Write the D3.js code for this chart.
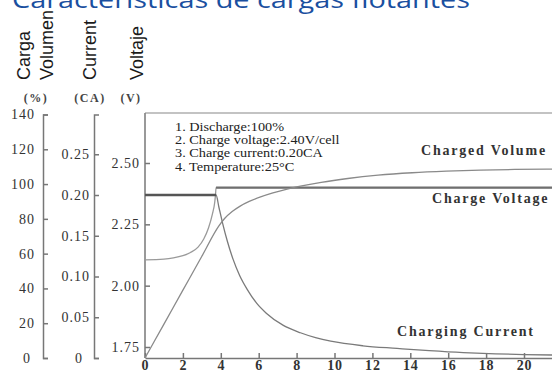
<!DOCTYPE html>
<html>
<head>
<meta charset="utf-8">
<script src="https://cdn.jsdelivr.net/npm/d3@7/dist/d3.min.js"></script>
<style>
  body { margin: 0; background: #fff; }
  svg { display: block; }
  .tick line, .domain { stroke: #777; stroke-width: 1.5; }
</style>
</head>
<body>
<div id="chart"></div>
<script>
const title = "Características de cargas flotantes";
const axisTitles = ["Carga", "Volumen", "Current", "Voltaje"];
const unitLabels = ["(%)", "(CA)", "(V)"];
const notes = [
    "1. Discharge:100%",
    "2. Charge voltage:2.40V/cell",
    "3. Charge current:0.20CA",
    "4. Temperature:25°C"
];

const hourTicks = [0, 2, 4, 6, 8, 10, 12, 14, 16, 18, 20];
const pctTicks = [0, 20, 40, 60, 80, 100, 120, 140];
const caTicks = [0, 0.05, 0.10, 0.15, 0.20, 0.25];
const voltTicks = [1.75, 2.00, 2.25, 2.50];

// charged volume (%)
const volumeHours = [0, 1, 2, 3, 3.9, 4.2, 4.6, 5.0, 5.5, 6.1, 6.75, 7.5, 8.2, 9.3, 10.7, 12.3, 14.1, 15.9, 17.7, 19.5, 21.2, 22];
const volumePct = [0, 19.5, 39, 58.5, 76, 80.2, 84.2, 87.2, 90, 92.6, 94.9, 97.1, 98.8, 101, 103.2, 105.1, 106.5, 107.4, 108, 108.4, 108.6, 108.7];

// charge voltage (V/cell)
const voltHours = [0, 1, 1.5, 2, 2.4, 2.8, 3.1, 3.35, 3.55, 3.68, 3.72, 3.75, 22];
const voltValues = [2.105, 2.108, 2.113, 2.122, 2.135, 2.157, 2.19, 2.235, 2.29, 2.34, 2.37, 2.40, 2.40];

// charging current (CA)
const currentHours = [0, 3.75, 3.9, 4.1, 4.35, 4.65, 5.0, 5.4, 5.9, 6.4, 7.3, 8.2, 9.0, 9.8, 11.5, 13.3, 15, 16.8, 18.5, 20, 22];
const currentCA = [0.20, 0.20, 0.185, 0.165, 0.143, 0.121, 0.101, 0.084, 0.067, 0.055, 0.040, 0.031, 0.025, 0.0206, 0.015, 0.0118, 0.009, 0.0066, 0.0051, 0.0042, 0.0035];

const W = 552, H = 373;
const plotLeft = 145, plotTop = 113, plotBottom = 358;

const svg = d3.select("#chart").append("svg")
    .attr("width", W)
    .attr("height", H);

const x = d3.scaleLinear().domain([0, 22]).range([plotLeft, plotLeft + 22 * 18.95]);
const yPct = d3.scaleLinear().domain([0, 140]).range([plotBottom, 114.5]);
const yCA = d3.scaleLinear().domain([0, 0.2988]).range([plotBottom, 114.5]);
const yV = d3.scaleLinear().domain([1.75, 2.50]).range([347, 163]);

// title, cut by the top edge
svg.append("text")
    .attr("x", 12).attr("y", 8)
    .attr("font-family", "Open Sans, sans-serif")
    .attr("font-size", 24)
    .attr("fill", "#1a4f9f")
    .attr("textLength", 458)
    .attr("lengthAdjust", "spacingAndGlyphs")
    .text(title);

// rotated axis titles
const titleX = [30, 53, 96, 143];
axisTitles.forEach((t, i) => {
    svg.append("text")
        .attr("transform", `translate(${titleX[i]},80) rotate(-90)`)
        .attr("font-family", "Liberation Sans, Arial, sans-serif")
        .attr("font-size", 18)
        .attr("fill", "#1a1a1a")
        .text(t);
});

const unitX = [36, 90, 131];
unitLabels.forEach((t, i) => {
    svg.append("text")
        .attr("x", unitX[i]).attr("y", 102)
        .attr("text-anchor", "middle")
        .attr("font-family", "Liberation Serif, serif")
        .attr("font-size", 12)
        .attr("font-weight", "bold")
        .attr("letter-spacing", 1.5)
        .attr("fill", "#444")
        .text(t);
});

function styleLabels(g, dx, zeroDx) {
    g.selectAll("text")
        .attr("x", d => d === 0 ? zeroDx : dx)
        .attr("text-anchor", "end")
        .attr("font-family", "Liberation Serif, serif")
        .attr("font-size", 14)
        .attr("letter-spacing", 1)
        .attr("fill", "#333");
}

// % axis
svg.append("g")
    .attr("transform", "translate(43,0)")
    .call(d3.axisRight(yPct).tickValues(pctTicks).tickSize(5).tickSizeOuter(5).tickFormat(d3.format("d")))
    .call(g => styleLabels(g, -8, -12));

// CA axis
svg.append("g")
    .attr("transform", "translate(94,0)")
    .call(d3.axisRight(yCA).tickValues(caTicks).tickSize(5).tickSizeOuter(5)
        .tickFormat(d => d === 0 ? "0" : d3.format(".2f")(d)))
    .call(g => styleLabels(g, -4, -11));

// voltage axis = left side of the plot box
svg.append("g")
    .attr("transform", `translate(${plotLeft},0)`)
    .call(d3.axisRight(yV).tickValues(voltTicks).tickSize(5).tickSizeOuter(0).tickFormat(d3.format(".2f")))
    .call(g => g.select(".domain").remove())
    .call(g => styleLabels(g, -5, -5));

svg.append("line")
    .attr("x1", plotLeft).attr("x2", plotLeft)
    .attr("y1", plotTop).attr("y2", plotBottom)
    .attr("stroke", "#777").attr("stroke-width", 1.5);
svg.append("line")
    .attr("x1", plotLeft).attr("x2", W)
    .attr("y1", plotTop).attr("y2", plotTop)
    .attr("stroke", "#888").attr("stroke-width", 1.2);

// hours axis
svg.append("g")
    .attr("transform", `translate(0,${plotBottom})`)
    .call(d3.axisBottom(x).tickValues(hourTicks).tickSize(-5).tickSizeOuter(0))
    .call(g => g.selectAll("text")
        .attr("y", 2)
        .attr("font-family", "Liberation Serif, serif")
        .attr("font-size", 14)
        .attr("font-weight", "bold")
        .attr("letter-spacing", 0.8)
        .attr("fill", "#333"));

// curves
const volumeData = volumeHours.map((h, i) => ({ h, v: volumePct[i] }));
const voltData = voltHours.map((h, i) => ({ h, v: voltValues[i] }));
const currentData = currentHours.map((h, i) => ({ h, v: currentCA[i] }));

function drawLine(data, yScale, color, width) {
    svg.append("path")
        .datum(data)
        .attr("fill", "none")
        .attr("stroke", color)
        .attr("stroke-width", width)
        .attr("stroke-linejoin", "round")
        .attr("d", d3.line().x(d => x(d.h)).y(d => yScale(d.v)).curve(d3.curveMonotoneX));
}

drawLine(voltData, yV, "#9a9a9a", 1.3);
drawLine(voltData.filter(d => d.v >= 2.40), yV, "#6f6f6f", 2.2);
drawLine(currentData, yCA, "#7a7a7a", 1.3);
drawLine(currentData.filter(d => d.h <= 3.75), yCA, "#555", 2.4);
drawLine(volumeData, yPct, "#8a8a8a", 1.3);

// test conditions
const noteG = svg.append("g").attr("transform", "translate(175,0)");
notes.forEach((t, i) => {
    noteG.append("text")
        .attr("transform", `translate(0,${131 + i * 13.2}) scale(1.19,1)`)
        .attr("font-family", "Liberation Serif, serif")
        .attr("font-size", 12)
        .attr("fill", "#222")
        .text(t);
});

// series labels
const seriesLabels = [
    { text: "Charged Volume", x: 421, y: 155 },
    { text: "Charge Voltage", x: 432, y: 203 },
    { text: "Charging Current", x: 397, y: 336 }
];
seriesLabels.forEach(l => {
    svg.append("text")
        .attr("x", l.x).attr("y", l.y)
        .attr("font-family", "Liberation Serif, serif")
        .attr("font-size", 14)
        .attr("font-weight", "bold")
        .attr("letter-spacing", 1.8)
        .attr("fill", "#333")
        .text(l.text);
});
</script>
</body>
</html>
